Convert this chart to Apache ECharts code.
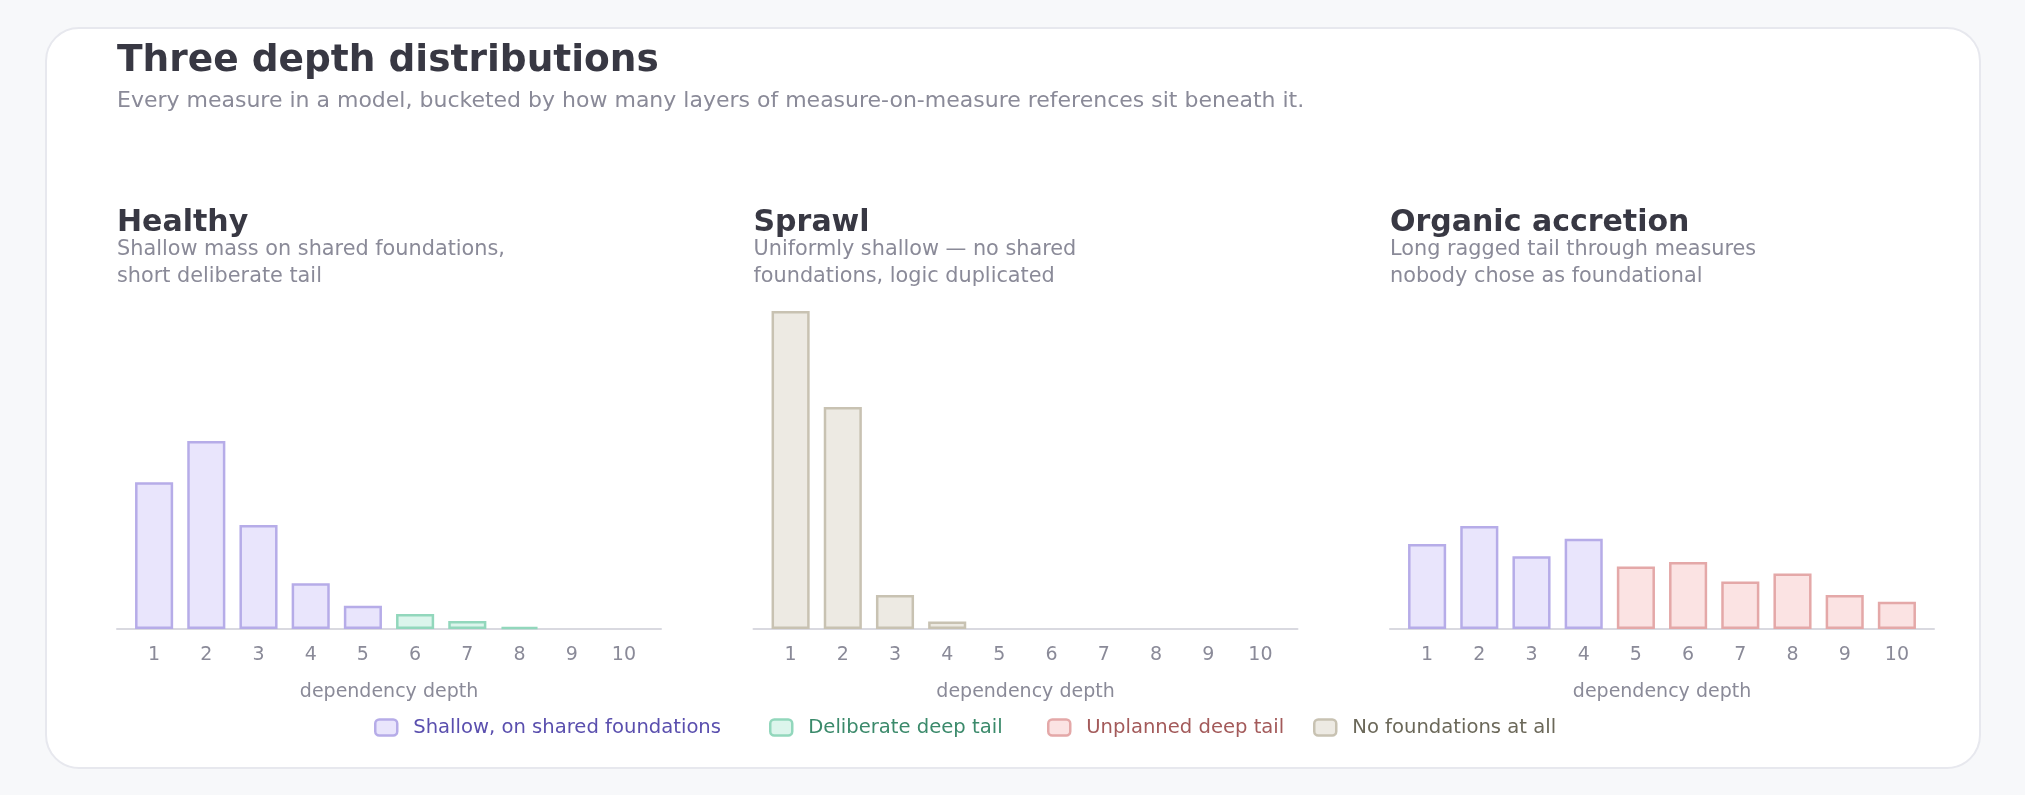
<!DOCTYPE html>
<html>
<head>
<meta charset="utf-8">
<title>Three depth distributions</title>
<script src="https://cdn.jsdelivr.net/npm/echarts@6/dist/echarts.min.js"></script>
<style>
  html, body { margin: 0; padding: 0; background: #f7f8fa; }
  .card {
    position: absolute; left: 45px; top: 27px;
    width: 1932px; height: 738px;
    background: #fff; border: 2px solid #e7e8ee; border-radius: 34px;
  }
  #chart { position: absolute; left: 0; top: 0; width: 2025px; height: 795px; }
</style>
</head>
<body>
<div class="card"></div>
<div id="chart"></div>
<script>
// ── data ──
const depths = ['1', '2', '3', '4', '5', '6', '7', '8', '9', '10'];

const panelTitles = ['Healthy', 'Sprawl', 'Organic accretion'];
const panelNotes = [
  'Shallow mass on shared foundations,\nshort deliberate tail',
  'Uniformly shallow \u2014 no shared\nfoundations, logic duplicated',
  'Long ragged tail through measures\nnobody chose as foundational',
];

// share of measures at each depth (same scale for all three panels)
const healthyValues = [25.4, 32.5, 18.0, 7.9, 4.0, 2.6, 1.4, 0.35, '-', '-'];
const sprawlValues  = [55.0, 38.4, 5.9, 1.3, '-', '-', '-', '-', '-', '-'];
const organicValues = [14.7, 17.8, 12.6, 15.6, 10.8, 11.6, 8.2, 9.6, 5.9, 4.7];

// which kind of bucket each depth is
const healthyKinds = ['shallow', 'shallow', 'shallow', 'shallow', 'shallow', 'deliberate', 'deliberate', 'deliberate', 'deliberate', 'deliberate'];
const sprawlKinds  = ['none', 'none', 'none', 'none', 'none', 'none', 'none', 'none', 'none', 'none'];
const organicKinds = ['shallow', 'shallow', 'shallow', 'shallow', 'unplanned', 'unplanned', 'unplanned', 'unplanned', 'unplanned', 'unplanned'];

const yMax = 55;

// ── styles ──
const FONT = '"DejaVu Sans", sans-serif';
const GREY = '#8a8a98';
const kinds = {
  shallow:    { name: 'Shallow, on shared foundations', fill: '#e9e5fc', border: '#b6ace8', text: '#5a4fae' },
  deliberate: { name: 'Deliberate deep tail',           fill: '#dcf5ec', border: '#92d7bc', text: '#3b8a6b' },
  unplanned:  { name: 'Unplanned deep tail',            fill: '#fbe3e3', border: '#e4a8a8', text: '#a35a5a' },
  none:       { name: 'No foundations at all',          fill: '#edeae3', border: '#c8c2b2', text: '#6b6859' },
};
const kindOrder = ['shallow', 'deliberate', 'unplanned', 'none'];
const legendLeft = [374, 769, 1047, 1313];

const panels = [
  { values: healthyValues, kinds: healthyKinds },
  { values: sprawlValues,  kinds: sprawlKinds },
  { values: organicValues, kinds: organicKinds },
];
const panelLeft = [117, 753.5, 1390];
const panelWidth = 544;
const pad = 11;          // axis line overhang past the outer bars
const gridTop = 311;
const gridHeight = 318;

const grid = [], xAxis = [], yAxis = [], series = [], graphic = [];

panels.forEach((p, i) => {
  const x0 = panelLeft[i];
  // outer grid: just the baseline + axis name
  grid.push({ left: x0, top: gridTop, width: panelWidth, height: gridHeight });
  xAxis.push({
    gridIndex: 2 * i, type: 'value', min: 0, max: 1,
    axisLine: { show: true, lineStyle: { color: '#d9d9e0', width: 2 } },
    axisTick: { show: false }, axisLabel: { show: false }, splitLine: { show: false },
    name: 'dependency depth', nameLocation: 'middle', nameGap: 54,
    nameTextStyle: { color: GREY, fontSize: 19, fontFamily: FONT },
  });
  yAxis.push({ gridIndex: 2 * i, type: 'value', min: 0, max: 1, show: false });

  // inner grid: the bars
  grid.push({ left: x0 + pad, top: gridTop, width: panelWidth - 2 * pad, height: gridHeight });
  xAxis.push({
    gridIndex: 2 * i + 1, type: 'category', data: depths,
    axisLine: { show: false }, axisTick: { show: false },
    axisLabel: { color: GREY, fontSize: 19, fontFamily: FONT, margin: 17 },
  });
  yAxis.push({ gridIndex: 2 * i + 1, type: 'value', min: 0, max: yMax, show: false });

  kindOrder.forEach(k => {
    if (!p.kinds.includes(k)) return;
    series.push({
      type: 'bar', name: kinds[k].name,
      xAxisIndex: 2 * i + 1, yAxisIndex: 2 * i + 1,
      stack: 'panel' + i, barWidth: '73%',
      itemStyle: { color: kinds[k].fill, borderColor: kinds[k].border, borderWidth: 2.5 },
      data: p.values.map((v, j) => (p.kinds[j] === k ? v : '-')),
      animation: false,
    });
  });

  graphic.push({
    type: 'text', x: x0, y: 223,
    style: { text: panelTitles[i], font: 'bold 30px ' + FONT, fill: '#383843', verticalAlign: 'middle' },
  });
  graphic.push({
    type: 'text', x: x0, y: 235.5,
    style: { text: panelNotes[i], font: '20.8px ' + FONT, fill: GREY, lineHeight: 27.4, verticalAlign: 'top' },
  });
});

graphic.push({
  type: 'text', x: 117, y: 61.5,
  style: { text: 'Three depth distributions', font: 'bold 37.5px ' + FONT, fill: '#383843', verticalAlign: 'middle' },
});
graphic.push({
  type: 'text', x: 117, y: 100.8,
  style: {
    text: 'Every measure in a model, bucketed by how many layers of measure-on-measure references sit beneath it.',
    font: '22px ' + FONT, fill: GREY, verticalAlign: 'middle',
  },
});

// one legend per item so each sits where the reference puts it
const legend = kindOrder.map((k, i) => ({
  left: legendLeft[i], top: 717.5, padding: 0,
  itemWidth: 22, itemHeight: 16, icon: 'roundRect',
  data: [{
    name: kinds[k].name,
    itemStyle: { color: kinds[k].fill, borderColor: kinds[k].border, borderWidth: 2.5 },
    textStyle: { color: kinds[k].text },
  }],
  textStyle: { fontSize: 19.6, fontFamily: FONT, padding: [0, 0, 0, 11] },
}));

const chart = echarts.init(document.getElementById('chart'));
chart.setOption({
  animation: false,
  grid, xAxis, yAxis, series, legend, graphic,
});
</script>
</body>
</html>
